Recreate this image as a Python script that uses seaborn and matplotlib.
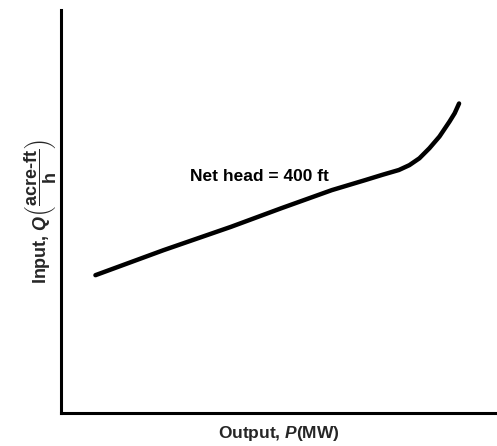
import matplotlib
matplotlib.use("Agg")
import matplotlib.pyplot as plt
import seaborn as sns
import pandas as pd

# Input-output curve of a hydro unit (arbitrary units)
output_p = [7.9, 23.5, 39.0, 50.5, 62.1, 69.8, 73.7, 77.5, 79.9, 82.2,
            84.5, 86.8, 89.1, 90.3, 91.3]
input_q = [34.2, 40.4, 46.2, 50.8, 55.3, 57.8, 59.1, 60.3, 61.5, 63.2,
           65.7, 68.6, 72.3, 74.4, 76.8]
curve_label = "Net head = 400 ft"
x_label = "Output, $\\mathit{P}$(MW)"
y_label = r"Input, $\mathit{Q}\left(\dfrac{\mathbf{acre\text{-}ft}}{\mathbf{h}}\right)$"

df = pd.DataFrame({"P": output_p, "Q": input_q})

sns.set_style("white")
plt.rcParams["font.family"] = ["Liberation Sans", "DejaVu Sans"]
plt.rcParams["mathtext.fontset"] = "custom"
plt.rcParams["mathtext.rm"] = "Liberation Sans:bold"
plt.rcParams["mathtext.bf"] = "Liberation Sans:bold"
plt.rcParams["mathtext.it"] = "Liberation Sans:bold:italic"

fig = plt.figure(figsize=(4.97, 4.46), dpi=100)
ax = fig.add_axes([61 / 497, 33 / 446, (497 - 61) / 497, (413 - 10) / 446])

sns.lineplot(data=df, x="P", y="Q", ax=ax, color="black", linewidth=3.2,
             solid_capstyle="round", sort=False)

ax.text(45.6, 58.6, curve_label, ha="center", va="center",
        fontsize=12.5, fontweight="bold", color="black")

ax.set_xlim(0, 100)
ax.set_ylim(0, 100)
ax.set_xticks([])
ax.set_yticks([])
ax.set_xlabel(x_label, fontsize=12.5, fontweight="bold", labelpad=8)
ax.set_ylabel(y_label, fontsize=13, fontweight="bold", labelpad=2)

sns.despine(ax=ax)
for side in ("left", "bottom"):
    ax.spines[side].set_linewidth(2.2)
    ax.spines[side].set_color("black")

fig.savefig("out.png", dpi=100)
